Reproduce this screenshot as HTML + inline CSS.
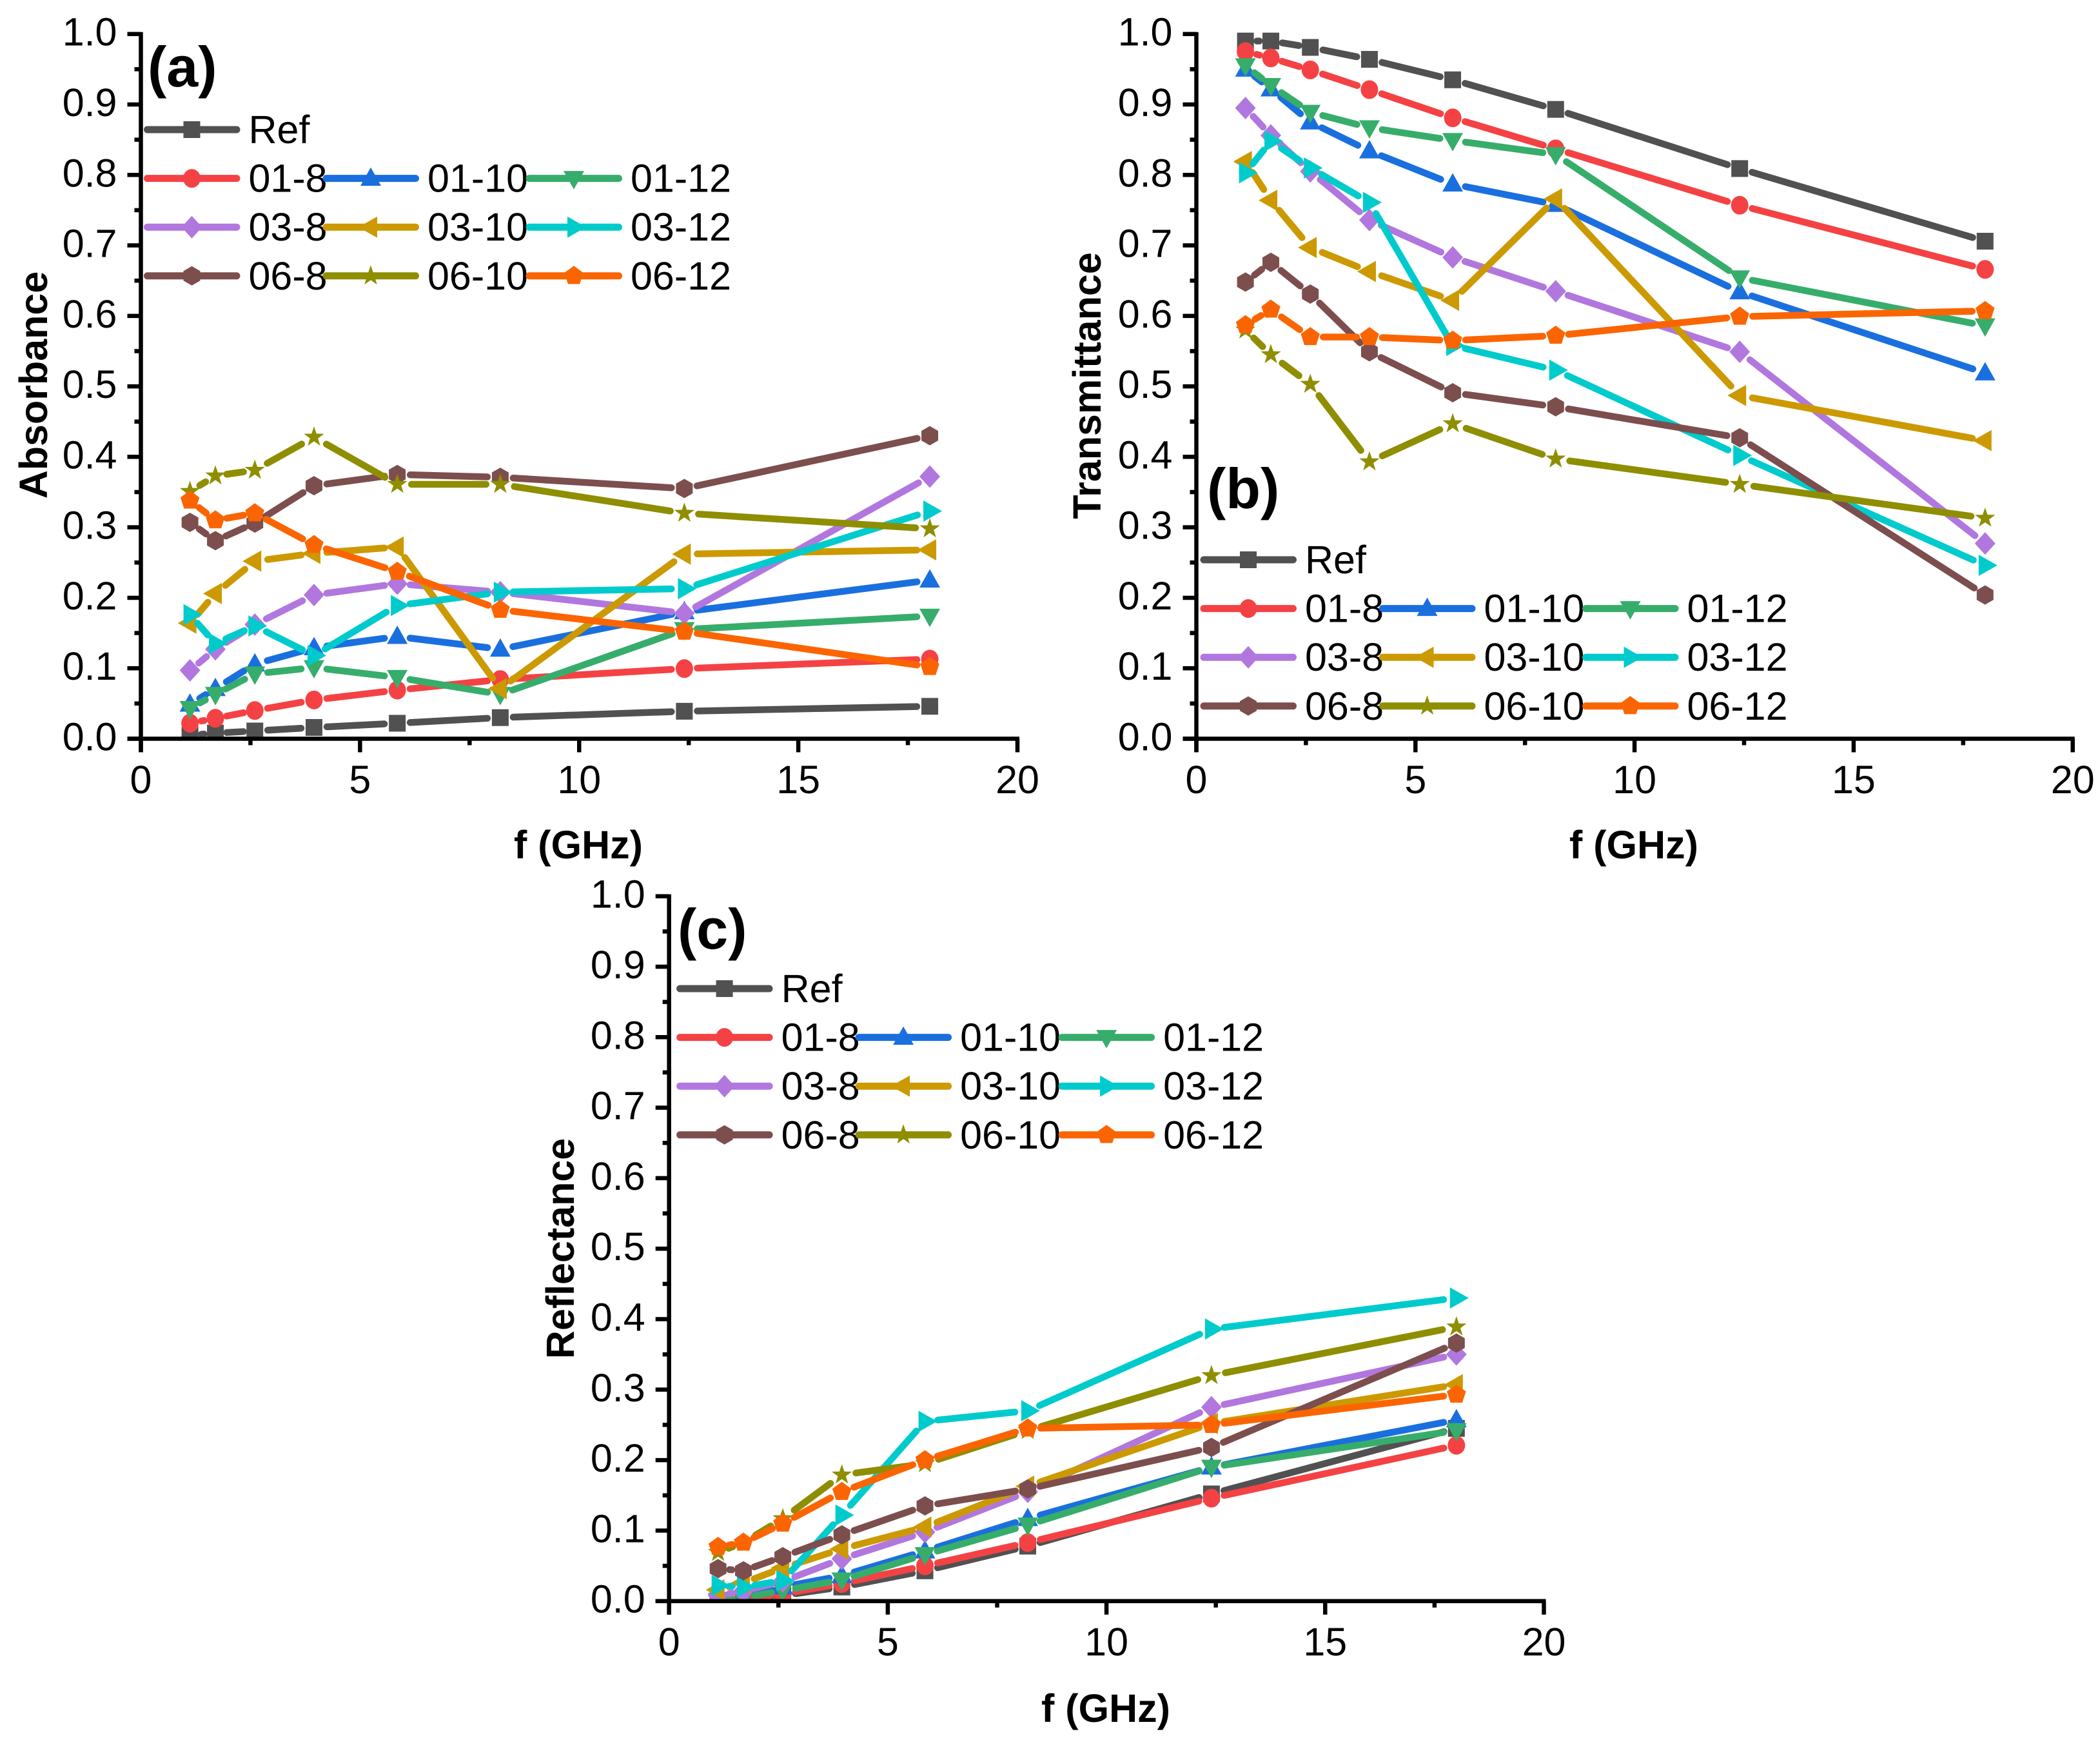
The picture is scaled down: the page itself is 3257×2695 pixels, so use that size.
<!DOCTYPE html>
<html lang="en">
<head>
<meta charset="utf-8">
<title>Absorbance, Transmittance and Reflectance vs Frequency</title>
<style>
html,body{margin:0;padding:0;background:#fff;width:3257px;height:2695px;overflow:hidden}
svg{display:block}
text{font-family:"Liberation Sans",Arial,sans-serif;fill:#000}
.tick{font-size:61px}
.leg{font-size:61px}
.title{font-size:61px;font-weight:bold}
.tag{font-size:88px;font-weight:bold}
</style>
</head>
<body>
<svg id="figure" xmlns="http://www.w3.org/2000/svg" width="3257" height="2695" viewBox="0 0 3257 2695">
  <rect x="0" y="0" width="3257" height="2695" fill="#fff"/>

  <g id="panel-a"></g>
  <g id="panel-b"></g>
  <g id="panel-c"></g>

  <text class="title" text-anchor="middle" transform="translate(73 597) rotate(-90)">Absorbance</text>
  <text class="title" text-anchor="middle" x="897" y="1331">f (GHz)</text>
  <text class="tag" x="229" y="134">(a)</text>

  <text class="title" text-anchor="middle" transform="translate(1707 598) rotate(-90)">Transmittance</text>
  <text class="title" text-anchor="middle" x="2534" y="1331">f (GHz)</text>
  <text class="tag" x="1872" y="788">(b)</text>

  <text class="title" text-anchor="middle" transform="translate(890 1936) rotate(-90)">Reflectance</text>
  <text class="title" text-anchor="middle" x="1715" y="2670">f (GHz)</text>
  <text class="tag" x="1051" y="1471">(c)</text>
</svg>

<script>
/* ---------- shared axis data ---------- */
const frequencies = [1.12, 1.7, 2.6, 3.95, 5.85, 8.2, 12.4, 18];
const xTickValues = [0, 5, 10, 15, 20];
const xTickLabels = ['0', '5', '10', '15', '20'];
const xMinorValues = [2.5, 7.5, 12.5, 17.5];
const yTickValues = [0, 0.1, 0.2, 0.3, 0.4, 0.5, 0.6, 0.7, 0.8, 0.9, 1];
const yTickLabels = ['0.0', '0.1', '0.2', '0.3', '0.4', '0.5', '0.6', '0.7', '0.8', '0.9', '1.0'];
const yMinorValues = [0.05, 0.15, 0.25, 0.35, 0.45, 0.55, 0.65, 0.75, 0.85, 0.95];
const seriesNames = ['Ref', '01-8', '01-10', '01-12', '03-8', '03-10', '03-12', '06-8', '06-10', '06-12'];

/* ---------- panel (a) absorbance ---------- */
const absRef  = [0.005, 0.008, 0.011, 0.016, 0.022, 0.030, 0.039, 0.046];
const abs018  = [0.022, 0.029, 0.040, 0.055, 0.069, 0.084, 0.0995, 0.113];
const abs0110 = [0.049, 0.071, 0.106, 0.129, 0.145, 0.127, 0.180, 0.225];
const abs0112 = [0.043, 0.063, 0.092, 0.101, 0.087, 0.063, 0.155, 0.174];
const abs038  = [0.097, 0.127, 0.162, 0.204, 0.220, 0.208, 0.178, 0.372];
const abs0310 = [0.164, 0.206, 0.252, 0.263, 0.272, 0.071, 0.262, 0.268];
const abs0312 = [0.176, 0.135, 0.160, 0.118, 0.189, 0.208, 0.213, 0.323];
const abs068  = [0.307, 0.281, 0.306, 0.359, 0.375, 0.371, 0.355, 0.430];
const abs0610 = [0.351, 0.373, 0.381, 0.428, 0.361, 0.361, 0.320, 0.298];
const abs0612 = [0.338, 0.310, 0.320, 0.275, 0.237, 0.183, 0.152, 0.102];

/* ---------- panel (b) transmittance ---------- */
const traRef  = [0.990, 0.990, 0.981, 0.964, 0.935, 0.893, 0.809, 0.706];
const tra018  = [0.975, 0.966, 0.949, 0.921, 0.881, 0.837, 0.757, 0.666];
const tra0110 = [0.950, 0.922, 0.875, 0.834, 0.787, 0.758, 0.634, 0.519];
const tra0112 = [0.955, 0.927, 0.889, 0.867, 0.849, 0.829, 0.654, 0.586];
const tra038  = [0.895, 0.856, 0.805, 0.736, 0.683, 0.635, 0.549, 0.277];
const tra0310 = [0.819, 0.764, 0.697, 0.663, 0.622, 0.766, 0.487, 0.423];
const tra0312 = [0.803, 0.848, 0.810, 0.761, 0.558, 0.523, 0.402, 0.246];
const tra068  = [0.648, 0.676, 0.631, 0.549, 0.491, 0.471, 0.427, 0.204];
const tra0610 = [0.580, 0.545, 0.503, 0.393, 0.447, 0.397, 0.361, 0.313];
const tra0612 = [0.587, 0.609, 0.570, 0.570, 0.565, 0.572, 0.599, 0.607];

/* ---------- panel (c) reflectance ---------- */
const refRef  = [0.001, 0.003, 0.008, 0.020, 0.043, 0.078, 0.152, 0.245];
const ref018  = [0.002, 0.004, 0.010, 0.025, 0.050, 0.083, 0.146, 0.221];
const ref0110 = [0.002, 0.006, 0.020, 0.036, 0.071, 0.117, 0.190, 0.257];
const ref0112 = [0.001, 0.005, 0.015, 0.030, 0.066, 0.108, 0.190, 0.242];
const ref038  = [0.008, 0.014, 0.028, 0.060, 0.098, 0.155, 0.275, 0.350];
const ref0310 = [0.016, 0.026, 0.047, 0.074, 0.105, 0.163, 0.252, 0.307];
const ref0312 = [0.022, 0.020, 0.029, 0.122, 0.255, 0.270, 0.386, 0.430];
const ref068  = [0.046, 0.043, 0.063, 0.094, 0.135, 0.159, 0.218, 0.366];
const ref0610 = [0.069, 0.083, 0.117, 0.179, 0.195, 0.242, 0.320, 0.389];
const ref0612 = [0.077, 0.083, 0.110, 0.155, 0.200, 0.245, 0.250, 0.293];

/* ---------- style ---------- */
const NS = 'http://www.w3.org/2000/svg';
const colors = ['#515151', '#F44244', '#1A6FDF', '#37AD6B', '#B177DE', '#CC9900', '#00CBCC', '#7D4E4E', '#8E8E00', '#FB6501'];
const shapes = ['square', 'circle', 'up', 'down', 'diamond', 'left', 'right', 'hexagon', 'star', 'pentagon'];
const LINE_W = 10.5;

function el(tag, attrs, parent) {
  const node = document.createElementNS(NS, tag);
  for (const k in attrs) node.setAttribute(k, attrs[k]);
  parent.appendChild(node);
  return node;
}

function radial(cx, cy, n, radiusFn, startDeg) {
  const pts = [];
  for (let i = 0; i < n; i++) {
    const a = (startDeg + i * 360 / n) * Math.PI / 180;
    const r = radiusFn(i);
    pts.push((cx + r * Math.cos(a)).toFixed(2) + ',' + (cy + r * Math.sin(a)).toFixed(2));
  }
  return pts.join(' ');
}

function markerPoints(shape, x, y) {
  const off = (list) => list.map(p => (x + p[0]).toFixed(2) + ',' + (y + p[1]).toFixed(2)).join(' ');
  switch (shape) {
    case 'square':  return off([[-13, -13], [13, -13], [13, 13], [-13, 13]]);
    case 'up':      return off([[0, -17], [16, 11.5], [-16, 11.5]]);
    case 'down':    return off([[0, 17], [16, -11.5], [-16, -11.5]]);
    case 'diamond': return off([[0, -17.5], [16, 0], [0, 17.5], [-16, 0]]);
    case 'left':    return off([[-19, 0], [10, -16.5], [10, 16.5]]);
    case 'right':   return off([[19, 0], [-10, -16.5], [-10, 16.5]]);
    case 'hexagon': return radial(x, y, 6, () => 15, -90);
    case 'pentagon':return radial(x, y, 5, () => 15.5, -90);
    case 'star':    return radial(x, y, 10, (i) => (i % 2 ? 6.5 : 16.5), -90);
  }
  return '';
}

function drawMarker(shape, x, y, color, parent) {
  if (shape === 'circle') {
    return el('ellipse', { cx: x, cy: y, rx: 13.5, ry: 14.5, fill: color }, parent);
  }
  return el('polygon', { points: markerPoints(shape, x, y), fill: color }, parent);
}

function gappedPath(pts, gap) {
  let d = '';
  for (let i = 0; i < pts.length - 1; i++) {
    const a = pts[i], b = pts[i + 1];
    const dx = b[0] - a[0], dy = b[1] - a[1];
    const len = Math.hypot(dx, dy);
    if (len === 0) continue;
    const ux = dx / len, uy = dy / len;
    const g = Math.min(len < 70 ? 17.75 : gap, len / 2 - 0.05);
    d += 'M' + (a[0] + ux * g).toFixed(2) + ' ' + (a[1] + uy * g).toFixed(2) +
         'L' + (b[0] - ux * g).toFixed(2) + ' ' + (b[1] - uy * g).toFixed(2);
  }
  return d;
}

function drawPanel(cfg) {
  const root = document.getElementById(cfg.id);
  const xScale = (v) => cfg.x0 + (v / 20) * (cfg.x1 - cfg.x0);
  const yScale = (v) => cfg.y0 - v * (cfg.y0 - cfg.y1);

  /* clip so marks are cut by the x axis */
  const defs = el('defs', {}, root);
  const clip = el('clipPath', { id: cfg.id + '-clip' }, defs);
  el('rect', { x: cfg.x0 - 40, y: cfg.y1 - 40, width: cfg.x1 - cfg.x0 + 80, height: cfg.y0 - cfg.y1 + 40 }, clip);

  const plot = el('g', { 'clip-path': 'url(#' + cfg.id + '-clip)' }, root);
  
  

  cfg.series.forEach((vals, s) => {
    const g = el('g', {}, plot);
    
    
    const pts = vals.map((v, i) => [xScale(frequencies[i]), yScale(v)]);
    const line = el('path', {
      d: gappedPath(pts, shapes[s] === 'star' ? 22 : 20),
      fill: 'none', stroke: colors[s], 'stroke-width': LINE_W, 'stroke-linecap': 'round'
    }, g);
    
    
    pts.forEach((p) => {
      const m = drawMarker(shapes[s], p[0], p[1], colors[s], g);
      
      
    });
  });

  /* axes */
  const axes = el('g', { stroke: '#000', 'stroke-width': 6.5 }, root);
  
  
  const MAJOR = 21, MINOR = 10;
  const xAxis = el('line', { x1: cfg.x0 - MAJOR, y1: cfg.y0, x2: cfg.x1 + 3, y2: cfg.y0 }, axes);
  
  
  const yAxis = el('line', { x1: cfg.x0, y1: cfg.y0 + MAJOR, x2: cfg.x0, y2: cfg.y1 - 3 }, axes);
  
  

  xTickValues.forEach((v, i) => {
    const x = xScale(v);
    const t = el('line', { x1: x, y1: cfg.y0, x2: x, y2: cfg.y0 + MAJOR }, axes);
    
    
    const lab = el('text', { class: 'tick', x: x, y: cfg.y0 + 84.5, 'text-anchor': 'middle', stroke: 'none' }, root);
    lab.textContent = xTickLabels[i];
    
    
  });
  xMinorValues.forEach((v) => {
    const x = xScale(v);
    const t = el('line', { x1: x, y1: cfg.y0, x2: x, y2: cfg.y0 + MINOR }, axes);
    
    
  });
  yTickValues.forEach((v, i) => {
    const y = yScale(v);
    const t = el('line', { x1: cfg.x0, y1: y, x2: cfg.x0 - MAJOR, y2: y }, axes);
    
    
    const lab = el('text', { class: 'tick', x: cfg.x0 - 37, y: y + 18, 'text-anchor': 'end', stroke: 'none' }, root);
    lab.textContent = yTickLabels[i];
    
    
  });
  yMinorValues.forEach((v) => {
    const y = yScale(v);
    const t = el('line', { x1: cfg.x0, y1: y, x2: cfg.x0 - MINOR, y2: y }, axes);
    
    
  });

  /* legend: Ref on first row, then 3 x 3 grid */
  const legend = el('g', {}, root);
  
  
  const colOffset = [0, 277.5, 592.5];
  const rowStep = 75.6;
  seriesNames.forEach((name, s) => {
    const row = s === 0 ? 0 : Math.floor((s - 1) / 3) + 1;
    const col = s === 0 ? 0 : (s - 1) % 3;
    const lx = cfg.legendX + colOffset[col];
    const ly = cfg.legendY + row * rowStep;
    const entry = el('g', {}, legend);
    
    
    el('path', {
      d: 'M' + (lx + 5) + ' ' + ly + 'L' + (lx + 143.5) + ' ' + ly,
      fill: 'none', stroke: colors[s], 'stroke-width': 11, 'stroke-linecap': 'round'
    }, entry);
    drawMarker(shapes[s], lx + 74, ly, colors[s], entry);
    const tx = el('text', { class: 'leg', x: lx + 162, y: ly + 21 }, entry);
    tx.textContent = name;
  });
}

drawPanel({
  id: 'panel-a', x0: 218.5, x1: 1578, y0: 1145.5, y1: 52.7, legendX: 223.5, legendY: 201,
  series: [absRef, abs018, abs0110, abs0112, abs038, abs0310, abs0312, abs068, abs0610, abs0612]
});
drawPanel({
  id: 'panel-b', x0: 1855.5, x1: 3214.7, y0: 1145.5, y1: 52.7, legendX: 1862, legendY: 868,
  series: [traRef, tra018, tra0110, tra0112, tra038, tra0310, tra0312, tra068, tra0610, tra0612]
});
drawPanel({
  id: 'panel-c', x0: 1037.7, x1: 2394.5, y0: 2482.7, y1: 1389.7, legendX: 1049.6, legendY: 1533,
  series: [refRef, ref018, ref0110, ref0112, ref038, ref0310, ref0312, ref068, ref0610, ref0612]
});
</script>
</body>
</html>
